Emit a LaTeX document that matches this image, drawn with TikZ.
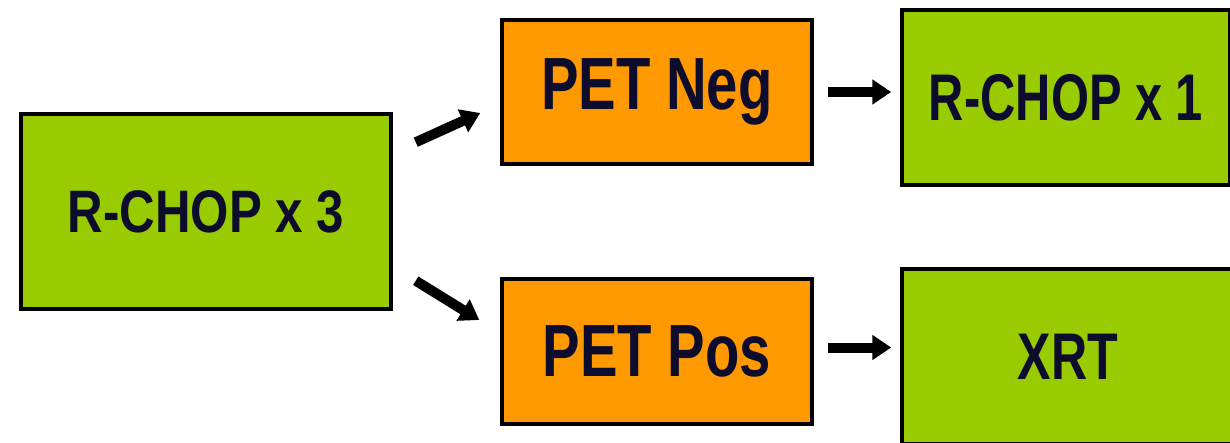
\documentclass[tikz,border=0pt]{standalone}
\usepackage{fontspec}
\setmainfont{Liberation Sans}
\usetikzlibrary{arrows.meta,calc}
\definecolor{boxgreen}{RGB}{153,204,0}
\definecolor{boxorange}{RGB}{255,153,0}
\definecolor{ink}{RGB}{14,12,44}
\newcommand{\condensed}[3]{{\fontsize{#1}{#1}\selectfont\bfseries\scalebox{#2}[1]{#3}}}
\begin{document}
\begin{tikzpicture}[x=1pt,y=1pt,
  box/.style={draw=black,line width=3.5pt,text=ink,inner sep=0pt,anchor=center},
  greenbox/.style={box,fill=boxgreen},
  orangebox/.style={box,fill=boxorange},
  arr/.style={line width=10pt,-{Triangle[length=19pt,width=24pt]}}]
\useasboundingbox (0,0) rectangle (1230,442);
\fill[white] (0,0) rectangle (1230,442);
\clip (0,0) rectangle (1230,442);

% treatment and PET result boxes
\node[greenbox,minimum width=370pt,minimum height=195pt] (a) at (206,230.5)
  {\condensed{60pt}{0.82}{R-CHOP x 3}};
\node[orangebox,minimum width=310pt,minimum height=144pt] (pn) at (657,350)
  {\condensed{74pt}{0.76}{PET Neg}};
\node[orangebox,minimum width=310pt,minimum height=145pt] (pp) at (657,90.5)
  {\condensed{74pt}{0.76}{PET Pos}};
\node[greenbox,minimum width=328pt,minimum height=175pt] (r1) at (1066,344.5)
  {\condensed{66pt}{0.74}{R-CHOP x 1}};
\node[greenbox,minimum width=332pt,minimum height=175pt] (xrt) at (1068,85.5)
  {\condensed{66pt}{0.76}{XRT}};

% branching arrows
\draw[arr] ([xshift=23pt,yshift=-30pt]a.north east) -- ([xshift=-20pt,yshift=-21pt]pn.west);
\draw[arr] ([xshift=23pt,yshift=30pt]a.south east) -- ([xshift=-21pt,yshift=31.5pt]pp.west);

% follow-up arrows
\draw[arr] ([xshift=14pt]pn.east) -- ([xshift=-9pt]pn.east -| r1.west);
\draw[arr] ([xshift=14pt,yshift=4pt]pp.east) -- ([xshift=-9pt,yshift=4pt]pp.east -| xrt.west);
\end{tikzpicture}
\end{document}
